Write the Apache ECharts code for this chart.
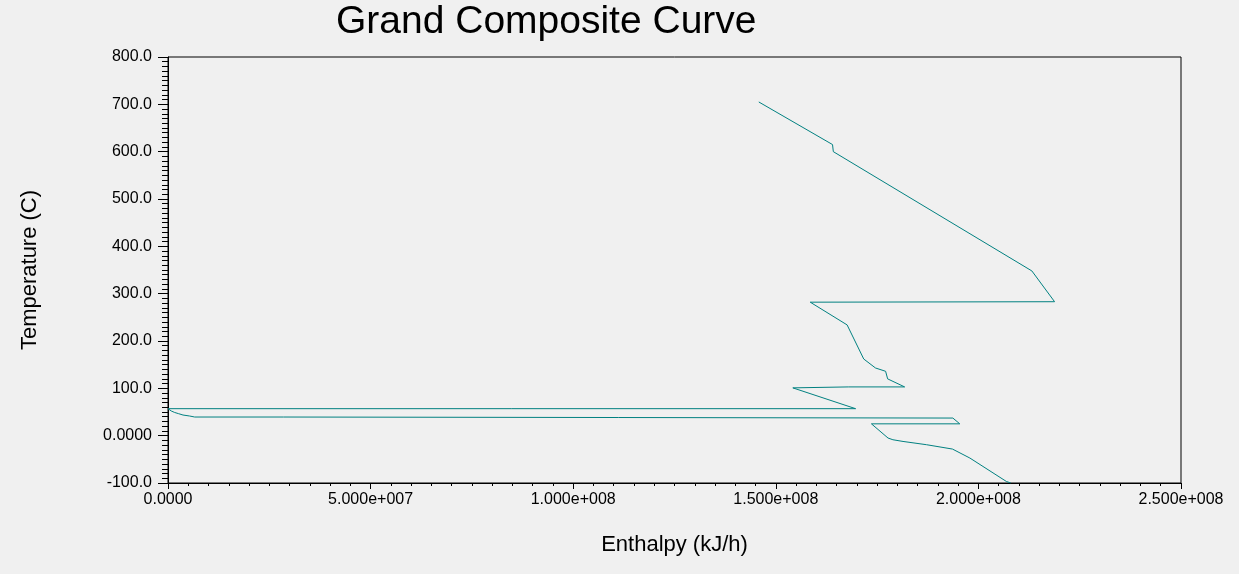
<!DOCTYPE html>
<html>
<head>
<meta charset="utf-8">
<script src="https://cdn.jsdelivr.net/npm/echarts@6/dist/echarts.min.js"></script>
<style>
html,body{margin:0;padding:0;background:#f0f0f0;}
#c{width:1239px;height:574px;}
</style>
</head>
<body>
<div id="c"></div>
<script>
// Grand composite curve points, in drawing order
var enthalpy = [
  1.458e8, 1.640e8, 1.642e8, 2.132e8, 2.188e8, 1.585e8, 1.676e8, 1.717e8,
  1.746e8, 1.771e8, 1.776e8, 1.818e8, 1.680e8, 1.680e8, 1.542e8, 1.697e8,
  0, 8.4e5, 1.65e6, 2.64e6, 3.70e6, 5.35e6, 6.59e6, 2.855e7,
  2.855e7, 1.937e8, 1.954e8, 1.736e8, 1.777e8, 1.789e8, 1.814e8, 1.872e8,
  1.936e8, 1.979e8, 2.069e8, 2.080e8
];
var temperature = [
  705, 615, 600, 348, 283, 282, 234, 162,
  143, 136, 120, 103, 103, 101, 101, 57,
  57, 52, 49, 46.4, 43.6, 41.5, 39.4, 39.4,
  37.2, 37.2, 25, 25, -5, -8.6, -12.2, -19.1,
  -28.3, -47.3, -96.7, -100
];
var xTickLabels = ['0.0000', '5.000e+007', '1.000e+008', '1.500e+008', '2.000e+008', '2.500e+008'];
var yTickLabels = ['-100.0', '0.0000', '100.0', '200.0', '300.0', '400.0', '500.0', '600.0', '700.0', '800.0'];

var pts = enthalpy.map(function (h, i) { return [h, temperature[i]]; });
var chart = echarts.init(document.getElementById('c'), null, {renderer: 'canvas'});
var fontFam = 'Liberation Sans, Arial, sans-serif';
chart.setOption({
  backgroundColor: '#f0f0f0',
  animation: false,
  title: {
    text: 'Grand Composite Curve',
    left: 336, top: 3, padding: 0,
    textStyle: {fontFamily: fontFam, fontSize: 39, fontWeight: 'normal', color: '#000'}
  },
  grid: {
    left: 168, right: 58, top: 57, bottom: 91,
    show: true, borderColor: '#000', borderWidth: 1, backgroundColor: 'transparent'
  },
  xAxis: {
    type: 'value', min: 0, max: 2.5e8, interval: 5e7,
    name: 'Enthalpy (kJ/h)', nameLocation: 'middle', nameGap: 51,
    nameTextStyle: {fontFamily: fontFam, fontSize: 22, color: '#000'},
    axisLine: {show: true, onZero: false, lineStyle: {color: '#000', width: 1}},
    axisTick: {show: true, length: 6, lineStyle: {color: '#000'}},
    minorTick: {show: true, splitNumber: 10, length: 3, lineStyle: {color: '#000'}},
    splitLine: {show: false},
    axisLabel: {
      margin: 9, fontFamily: fontFam, fontSize: 16, color: '#000',
      showMinLabel: true, showMaxLabel: true,
      formatter: function (v) { return xTickLabels[Math.round(v / 5e7)]; }
    }
  },
  yAxis: {
    type: 'value', min: -100, max: 800, interval: 100,
    name: 'Temperature (C)', nameLocation: 'middle', nameGap: 127, nameRotate: 90,
    nameTextStyle: {fontFamily: fontFam, fontSize: 22, color: '#000'},
    axisLine: {show: true, onZero: false, lineStyle: {color: '#000', width: 1}},
    axisTick: {show: true, length: 10, lineStyle: {color: '#000'}},
    minorTick: {show: true, splitNumber: 10, length: 6, lineStyle: {color: '#000'}},
    splitLine: {show: false},
    axisLabel: {
      margin: 16, fontFamily: fontFam, fontSize: 16, color: '#000',
      showMinLabel: true, showMaxLabel: true,
      formatter: function (v) { return yTickLabels[Math.round((v + 100) / 100)]; }
    }
  },
  series: [{
    type: 'line',
    data: pts,
    showSymbol: false,
    symbol: 'none',
    lineStyle: {color: '#008080', width: 1},
    itemStyle: {color: '#008080'}
  }]
});
</script>
</body>
</html>
